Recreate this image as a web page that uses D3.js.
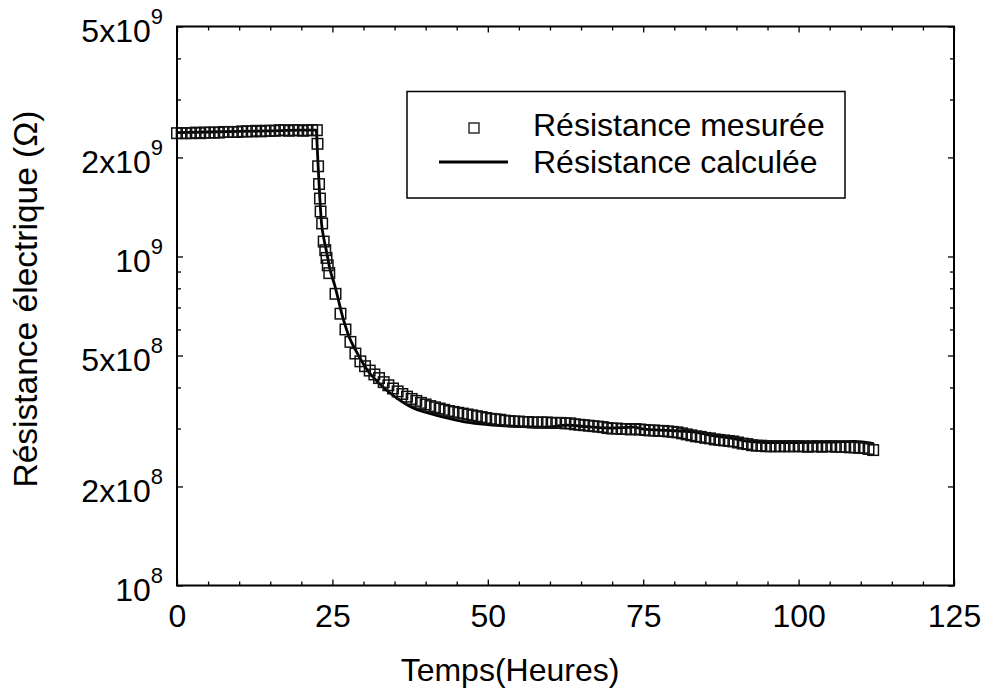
<!DOCTYPE html>
<html><head><meta charset="utf-8">
<script src="https://cdn.jsdelivr.net/npm/d3@7"></script>
<style>
body{margin:0;background:#fff}
svg{display:block}
text{font-family:"Liberation Sans",Arial,sans-serif;fill:#000}
</style>
</head><body>
<svg id="chart" width="984" height="697"></svg>
<script>
// ---- data (hours, ohms) ----
const measTime = [
 0,0.75,1.5,2.25,3,3.75,4.5,5.25,6,6.75,7.5,8.25,9,9.75,10.5,11.25,12,12.75,13.5,14.25,15,15.75,16.5,17.25,18,18.75,19.5,20.25,21,21.75,22.5,
 22.6,22.7,22.85,23.0,23.1,23.35,23.6,23.85,24.05,24.25,24.5,25.5,26.3,27.1,27.9,28.7,
 29.5,30.25,31,31.75,32.5,33.25,34,34.75,35.5,36.25,37,37.75,38.5,39.25,40,40.75,41.5,42.25,43,43.75,44.5,45.25,46,46.75,47.5,48.25,49,49.75,
 50.5,51.25,52,52.75,53.5,54.25,55,55.75,56.5,57.25,58,58.75,59.5,60.25,61,61.75,62.5,63.25,64,64.75,65.5,66.25,67,67.75,68.5,69.25,
 70,70.75,71.5,72.25,73,73.75,74.5,75.25,76,76.75,77.5,78.25,79,79.75,80.5,81.25,82,82.75,83.5,84.25,85,85.75,86.5,87.25,88,88.75,
 89.5,90.25,91,91.75,92.5,93.25,94,94.75,95.5,96.25,97,97.75,98.5,99.25,100,100.75,101.5,102.25,103,103.75,104.5,105.25,106,106.75,
 107.5,108.25,109,109.75,110.5,111.25,112
];
const measRes = [
 2.37e9,2.37e9,2.37e9,2.37e9,2.38e9,2.37e9,2.38e9,2.38e9,2.38e9,2.38e9,2.39e9,2.39e9,2.39e9,2.39e9,2.40e9,2.40e9,2.40e9,2.41e9,2.40e9,2.41e9,2.41e9,2.41e9,2.42e9,2.42e9,2.41e9,2.42e9,2.42e9,2.41e9,2.42e9,2.42e9,2.42e9,
 2.20e9,1.88e9,1.66e9,1.50e9,1.37e9,1.26e9,1.11e9,1.045e9,0.99e9,0.94e9,0.89e9,0.77e9,0.67e9,0.60e9,0.55e9,0.507e9,
 4.80e8,4.64e8,4.50e8,4.38e8,4.27e8,4.15e8,4.06e8,3.97e8,3.89e8,3.82e8,3.75e8,3.69e8,3.64e8,3.59e8,3.55e8,3.51e8,3.48e8,3.45e8,3.42e8,3.39e8,3.37e8,3.35e8,3.33e8,3.31e8,3.29e8,3.27e8,3.25e8,3.23e8,
 3.21e8,3.20e8,3.19e8,3.17e8,3.16e8,3.15e8,3.15e8,3.14e8,3.14e8,3.13e8,3.13e8,3.13e8,3.13e8,3.12e8,3.12e8,3.12e8,3.11e8,3.11e8,3.09e8,3.08e8,3.07e8,3.06e8,3.05e8,3.04e8,3.03e8,3.01e8,
 3.00e8,3.00e8,2.99e8,2.99e8,2.98e8,2.99e8,2.98e8,2.97e8,2.96e8,2.96e8,2.95e8,2.95e8,2.94e8,2.93e8,2.92e8,2.90e8,2.88e8,2.86e8,2.84e8,2.83e8,2.81e8,2.80e8,2.78e8,2.77e8,2.76e8,2.75e8,
 2.74e8,2.72e8,2.70e8,2.69e8,2.67e8,2.66e8,2.66e8,2.65e8,2.65e8,2.65e8,2.65e8,2.65e8,2.65e8,2.65e8,2.65e8,2.65e8,2.64e8,2.65e8,2.65e8,2.64e8,2.65e8,2.65e8,2.64e8,2.64e8,
 2.64e8,2.63e8,2.63e8,2.62e8,2.62e8,2.60e8,2.58e8
];
const calcTime = [0,5,10,15,20,22.4,22.57,22.7,22.98,23.25,23.62,24.05,24.58,25.39,26.72,27.8,28.87,30.5,32.6,35.3,37.9,40.5,43.4,46,48.7,54,59.4,62.7,65.9,70,73.3,75.5,79,83,86,89.3,92,94.8,100,105,109,112.1];
const calcRes = [2.38e9,2.39e9,2.40e9,2.41e9,2.42e9,2.42e9,2.13e9,1.89e9,1.50e9,1.26e9,1.134e9,1.036e9,0.919e9,0.816e9,0.648e9,0.563e9,0.514e9,4.55e8,4.10e8,3.72e8,3.47e8,3.34e8,3.23e8,3.15e8,3.10e8,3.05e8,3.03e8,3.07e8,3.04e8,3.01e8,3.03e8,2.98e8,2.96e8,2.93e8,2.86e8,2.80e8,2.74e8,2.72e8,2.72e8,2.73e8,2.74e8,2.70e8];

const xMajorTicks = [0,25,50,75,100,125];
const xMinorTicks = [5,10,15,20,30,35,40,45,55,60,65,70,80,85,90,95,105,110,115,120];
const yMajorTicks = [1e8,2e8,5e8,1e9,2e9,5e9];
const yTickMantissa = ["","2x","5x","","2x","5x"];
const yTickExponent = ["8","8","8","9","9","9"];
const yMinorTicks = [3e8,4e8,6e8,7e8,8e8,9e8,3e9,4e9];
const seriesNames = ["Résistance mesurée","Résistance calculée"];
const xTitle = "Temps(Heures)";
const yTitle = "Résistance électrique (Ω)";

// ---- layout ----
const L = 177, R = 954, T = 26.5, B = 585.5;
const svg = d3.select("#chart");
const x = d3.scaleLinear().domain([0,125]).range([L,R]);
const y = d3.scaleLog().domain([1e8,5e9]).range([B,T]);
const FONT = '"Liberation Sans",Arial,sans-serif';

function styleAxis(g){
  g.select(".domain").remove();
  g.attr("font-family",FONT);
  g.selectAll(".tick line").attr("stroke","#000").attr("stroke-width",1.3);
}

// data
const meas = measTime.map((t,i)=>({t, v:measRes[i]}));
const calc = calcTime.map((t,i)=>({t, v:calcRes[i]}));

const line = d3.line().x(d=>x(d.t)).y(d=>y(d.v)).curve(d3.curveMonotoneX);
svg.append("path").datum(calc).attr("d",line)
  .attr("fill","none").attr("stroke","#000").attr("stroke-width",2.8);

const S = 10.5;
svg.append("g").selectAll("rect").data(meas).join("rect")
  .attr("x",d=>x(d.t)-S/2).attr("y",d=>y(d.v)-S/2)
  .attr("width",S).attr("height",S)
  .attr("fill","none").attr("stroke","#111").attr("stroke-width",1.5);

// axes ticks
svg.append("g").attr("transform",`translate(0,${B})`)
  .call(d3.axisBottom(x).tickValues(xMajorTicks).tickSize(-6).tickPadding(19).tickFormat(d3.format("d")))
  .call(styleAxis).call(g=>g.selectAll("text").attr("font-size",32));
svg.append("g").attr("transform",`translate(0,${B})`)
  .call(d3.axisBottom(x).tickValues(xMinorTicks).tickSize(-4).tickFormat(""))
  .call(styleAxis);
svg.append("g").attr("transform",`translate(0,${T})`)
  .call(d3.axisTop(x).tickValues(xMajorTicks).tickSize(-6).tickFormat(""))
  .call(styleAxis);
svg.append("g").attr("transform",`translate(0,${T})`)
  .call(d3.axisTop(x).tickValues(xMinorTicks).tickSize(-4).tickFormat(""))
  .call(styleAxis);
svg.append("g").attr("transform",`translate(${L},0)`)
  .call(d3.axisLeft(y).tickValues(yMajorTicks).tickSize(-6).tickFormat(""))
  .call(styleAxis);
svg.append("g").attr("transform",`translate(${L},0)`)
  .call(d3.axisLeft(y).tickValues(yMinorTicks).tickSize(-4).tickFormat(""))
  .call(styleAxis);
svg.append("g").attr("transform",`translate(${R},0)`)
  .call(d3.axisRight(y).tickValues(yMajorTicks).tickSize(-6).tickFormat(""))
  .call(styleAxis);
svg.append("g").attr("transform",`translate(${R},0)`)
  .call(d3.axisRight(y).tickValues(yMinorTicks).tickSize(-4).tickFormat(""))
  .call(styleAxis);

// y tick labels with superscripts
const yl = svg.append("g").selectAll("text").data(yMajorTicks).join("text")
  .attr("x",163).attr("y",d=>y(d)+15.5).attr("text-anchor","end").attr("font-size",32);
yl.append("tspan").text((d,i)=>yTickMantissa[i]+"10");
yl.append("tspan").attr("font-size",22).attr("dy",-18).text((d,i)=>yTickExponent[i]);

// frame
svg.append("rect").attr("x",L).attr("y",T).attr("width",R-L).attr("height",B-T)
  .attr("fill","none").attr("stroke","#000").attr("stroke-width",2);

// titles
svg.append("text").attr("x",510).attr("y",681).attr("text-anchor","middle").attr("font-size",32).text(xTitle);
svg.append("text").attr("transform","translate(37,299) rotate(-90)").attr("text-anchor","middle").attr("font-size",33.5).text(yTitle);

// legend
const lg = svg.append("g");
lg.append("rect").attr("x",407).attr("y",91.5).attr("width",438).attr("height",106.5)
  .attr("fill","#fff").attr("stroke","#000").attr("stroke-width",1.5);
lg.append("rect").attr("x",474-5).attr("y",128-5).attr("width",10).attr("height",10)
  .attr("fill","none").attr("stroke","#111").attr("stroke-width",1.3);
lg.append("line").attr("x1",439).attr("x2",508).attr("y1",162).attr("y2",162)
  .attr("stroke","#000").attr("stroke-width",2.8);
lg.append("text").attr("x",533).attr("y",136).attr("font-size",32).text(seriesNames[0]);
lg.append("text").attr("x",533).attr("y",172.5).attr("font-size",32).text(seriesNames[1]);
</script>
</body></html>
